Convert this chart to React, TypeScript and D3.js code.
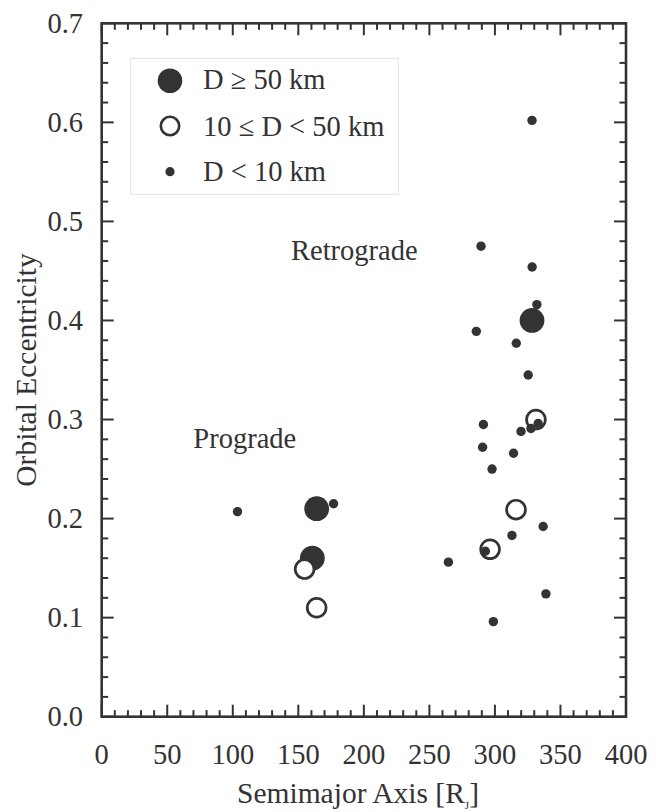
import React from "react";
import * as d3 from "d3";

// Large moons (D >= 50 km)
const largeA = [164, 160.7, 328.3];
const largeE = [0.21, 0.16, 0.4];
// Medium moons (10 <= D < 50 km)
const mediumA = [154.8, 164, 331.3, 316.1, 296.3];
const mediumE = [0.149, 0.11, 0.3, 0.209, 0.169];
// Small moons (D < 10 km)
const smallA = [103.6, 176.9, 289.4, 328.4, 332, 285.8, 316.3, 325.4, 291.2, 333, 327.5, 319.9, 290.6, 314.2, 297.8, 336.8, 313, 292.7, 264.5, 338.9, 298.8, 328.3];
const smallE = [0.207, 0.215, 0.475, 0.454, 0.416, 0.389, 0.377, 0.345, 0.295, 0.296, 0.291, 0.288, 0.272, 0.266, 0.25, 0.192, 0.183, 0.167, 0.156, 0.124, 0.096, 0.602];

const xTicks = [0, 50, 100, 150, 200, 250, 300, 350, 400];
const yTicks = [0, 0.1, 0.2, 0.3, 0.4, 0.5, 0.6, 0.7];
const legendLabels = ["D \u2265 50 km", "10 \u2264 D < 50 km", "D < 10 km"];

const W = 656, H = 812;
const L = 101.7, R = 626, T = 23.3, B = 716.7;
const INK = "#333";
const FONT = "'Liberation Serif', 'Times New Roman', serif";
const FS = 28.5;
const FT = 29.5;

export default function App() {
  const x = d3.scaleLinear().domain([0, 400]).range([L, R]);
  const y = d3.scaleLinear().domain([0, 0.7]).range([B, T]);
  const xMinor = d3.range(0, 401, 10);
  const yMinor = d3.range(0, 36).map((i) => i * 0.02);
  const MAJ = 12, MIN = 6.5;

  const tickLines: JSX.Element[] = [];
  xMinor.forEach((v, i) => {
    const len = v % 50 === 0 ? MAJ : MIN;
    const px = x(v);
    tickLines.push(<line key={"xb" + i} x1={px} x2={px} y1={B} y2={B - len} />);
    tickLines.push(<line key={"xt" + i} x1={px} x2={px} y1={T} y2={T + len} />);
  });
  yMinor.forEach((v, i) => {
    const len = i % 5 === 0 ? MAJ : MIN;
    const py = y(v);
    tickLines.push(<line key={"yl" + i} x1={L} x2={L + len} y1={py} y2={py} />);
    tickLines.push(<line key={"yr" + i} x1={R} x2={R - len} y1={py} y2={py} />);
  });

  const fmt = d3.format(".1f");

  return (
    <div style={{ position: "absolute", left: 0, top: 0 }}>
      <svg width={W} height={H} style={{ display: "block", background: "#fff" }} fontFamily={FONT}>
        {/* legend */}
        <rect x={130.7} y={58.3} width={267.6} height={136} fill="#fff" stroke="#e2e2e2" strokeWidth={1} />
        <circle cx={170} cy={80.7} r={12.3} fill={INK} />
        <circle cx={170} cy={126} r={9.2} fill="#fff" stroke={INK} strokeWidth={2.6} />
        <circle cx={170} cy={171.7} r={4.6} fill={INK} />
        {legendLabels.map((t, i) => (
          <text key={t} x={203} y={[89, 135.5, 180.5][i]} fontSize={FS} fill={INK}>{t}</text>
        ))}

        {/* annotations */}
        <text x={291} y={260} fontSize={FS} fill={INK}>Retrograde</text>
        <text x={193.3} y={448.3} fontSize={FS} fill={INK}>Prograde</text>

        {/* data */}
        {largeA.map((a, i) => (
          <circle key={"l" + i} cx={x(a)} cy={y(largeE[i])} r={12.4} fill={INK} />
        ))}
        {mediumA.map((a, i) => (
          <circle key={"m" + i} cx={x(a)} cy={y(mediumE[i])} r={9.4} fill="#fff" stroke={INK} strokeWidth={2.7} />
        ))}
        {smallA.map((a, i) => (
          <circle key={"s" + i} cx={x(a)} cy={y(smallE[i])} r={4.7} fill={INK} />
        ))}

        {/* frame and ticks */}
        <g stroke={INK} strokeWidth={2}>{tickLines}</g>
        <rect x={L} y={T} width={R - L} height={B - T} fill="none" stroke={INK} strokeWidth={2.6} />

        {/* tick labels */}
        {xTicks.map((v) => (
          <text key={"xl" + v} x={x(v)} y={764} textAnchor="middle" fontSize={FS} fill={INK}>{v}</text>
        ))}
        {yTicks.map((v) => (
          <text key={"yl" + v} x={83} y={y(v)} dy="0.33em" textAnchor="end" fontSize={FS} fill={INK}>{fmt(v)}</text>
        ))}

        {/* axis titles */}
        <text x={358} y={803} textAnchor="middle" fontSize={FT} fill={INK}>
          Semimajor Axis [R<tspan fontSize={11} dy={6}>J</tspan><tspan dy={-6}>]</tspan>
        </text>
        <text transform={`translate(36, ${(T + B) / 2}) rotate(-90)`} textAnchor="middle" fontSize={FT} fill={INK}>
          Orbital Eccentricity
        </text>
      </svg>
    </div>
  );
}
